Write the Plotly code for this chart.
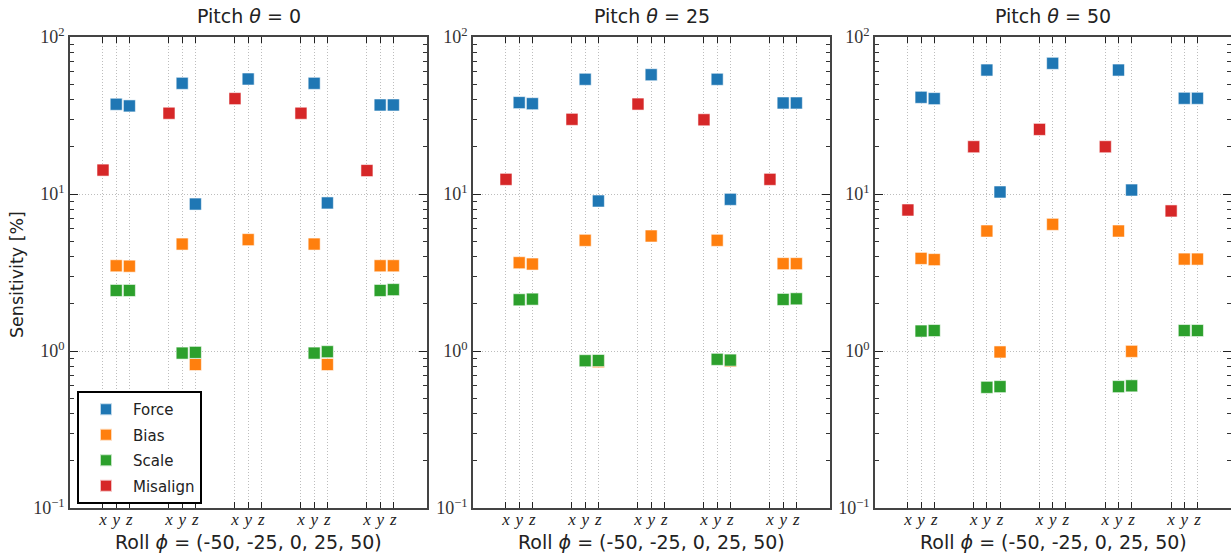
import plotly.graph_objects as go

# ---------------- data ----------------
pitches = [0, 25, 50]
rolls = [-50, -25, 0, 25, 50]
axes_lbl = ["x", "y", "z"]
series_names = ["Force", "Bias", "Scale", "Misalign"]
series_colors = ["#1f77b4", "#ff7f0e", "#2ca02c", "#d62728"]
y_tickvals = [0.1, 1, 10, 100]
y_ticktext = ["10<sup>−1</sup>", "10<sup>0</sup>", "10<sup>1</sup>", "10<sup>2</sup>"]

# values ordered roll-major: (roll -50: x,y,z), (roll -25: x,y,z), ...
force_p0 = [None, 37.3, 36.4, None, 50.7, 8.63, None, 54.0, None, None, 50.7, 8.77, None, 36.9, 36.9]
bias_p0 = [None, 3.49, 3.47, None, 4.80, 0.82, None, 5.12, None, None, 4.80, 0.82, None, 3.49, 3.49]
scale_p0 = [None, 2.43, 2.43, None, 0.97, 0.98, None, None, None, None, 0.97, 0.99, None, 2.43, 2.46]
misalign_p0 = [14.2, None, None, 32.7, None, None, 40.5, None, None, 32.7, None, None, 14.1, None, None]

force_p25 = [None, 38.2, 37.6, None, 53.8, 9.02, None, 57.5, None, None, 53.8, 9.25, None, 38.0, 38.0]
bias_p25 = [None, 3.65, 3.58, None, 5.07, 0.855, None, 5.40, None, None, 5.07, 0.865, None, 3.60, 3.60]
scale_p25 = [None, 2.12, 2.14, None, 0.867, 0.87, None, None, None, None, 0.885, 0.875, None, 2.13, 2.15]
misalign_p25 = [12.4, None, None, 29.9, None, None, 37.4, None, None, 29.7, None, None, 12.4, None, None]

force_p50 = [None, 41.3, 40.5, None, 61.6, 10.3, None, 68.0, None, None, 61.6, 10.6, None, 40.7, 40.7]
bias_p50 = [None, 3.89, 3.82, None, 5.81, 0.986, None, 6.41, None, None, 5.81, 0.995, None, 3.85, 3.85]
scale_p50 = [None, 1.34, 1.35, None, 0.587, 0.593, None, None, None, None, 0.593, 0.60, None, 1.35, 1.35]
misalign_p50 = [7.91, None, None, 20.0, None, None, 25.8, None, None, 20.0, None, None, 7.8, None, None]

panel_data = [
    [force_p0, bias_p0, scale_p0, misalign_p0],
    [force_p25, bias_p25, scale_p25, misalign_p25],
    [force_p50, bias_p50, scale_p50, misalign_p50],
]

# ---------------- layout helpers ----------------
W, H = 1231, 557
GROUP_STEP = 5
xpos = [GROUP_STEP * i + j for i in range(len(rolls)) for j in range(len(axes_lbl))]
xtext = ["<i>%s</i>" % a for _ in rolls for a in axes_lbl]

panel_px = [(70, 427), (473, 830), (875, 1231)]
top_px, bot_px = 37, 508

SANS = "'DejaVu Sans', sans-serif"
SERIF = "'Liberation Serif', 'DejaVu Serif', serif"

fig = go.Figure()

for p, pitch in enumerate(pitches):
    xa = "x" if p == 0 else "x%d" % (p + 1)
    ya = "y" if p == 0 else "y%d" % (p + 1)
    for s, name in enumerate(series_names):
        fig.add_trace(go.Scatter(
            x=xpos, y=panel_data[p][s], mode="markers", name=name,
            xaxis=xa, yaxis=ya, showlegend=(p == 0), legendgroup=name,
            marker=dict(symbol="square", size=12, color=series_colors[s],
                        line=dict(color="rgba(255,255,255,0.7)", width=0.8)),
            cliponaxis=False,
        ))

layout = dict(
    width=W, height=H, margin=dict(l=0, r=0, t=0, b=0, autoexpand=False),
    paper_bgcolor="white", plot_bgcolor="white",
    showlegend=True,
    legend=dict(x=77 / W, y=1 - 391 / H, xanchor="left", yanchor="top",
                bordercolor="black", borderwidth=2, bgcolor="white",
                font=dict(family=SANS, size=15, color="#222"),
                itemsizing="constant", itemwidth=44, tracegroupgap=3),
    annotations=[],
)

for p, pitch in enumerate(pitches):
    l, r = panel_px[p]
    xkey = "xaxis" if p == 0 else "xaxis%d" % (p + 1)
    ykey = "yaxis" if p == 0 else "yaxis%d" % (p + 1)
    ya = "y" if p == 0 else "y%d" % (p + 1)
    xa = "x" if p == 0 else "x%d" % (p + 1)
    layout[xkey] = dict(
        domain=[l / W, min(r / W, 1.0)], anchor=ya, range=[-2.5, 24.55],
        automargin=False,
        tickmode="array", tickvals=xpos, ticktext=xtext,
        ticks="inside", ticklen=6, tickwidth=1.2, tickcolor="#222",
        ticklabelstandoff=-5,
        showline=True, linecolor="#444", linewidth=1.6, mirror="allticks",
        showgrid=True, gridcolor="#bdbdbd", griddash="1px,2px", gridwidth=1,
        zeroline=False,
        tickfont=dict(family=SERIF, size=17, color="#222"),
    )
    layout[ykey] = dict(
        domain=[1 - bot_px / H, 1 - top_px / H], anchor=xa,
        automargin=False,
        type="log", range=[-1, 2],
        tickmode="array", tickvals=y_tickvals, ticktext=y_ticktext,
        ticks="inside", ticklen=8, tickwidth=1.2, tickcolor="#222",
        showline=True, linecolor="#444", linewidth=1.6, mirror="allticks",
        showgrid=True, gridcolor="#bdbdbd", griddash="1px,2px", gridwidth=1,
        zeroline=False,
        minor=dict(ticks="inside", ticklen=4, tickwidth=1, tickcolor="#333",
                   dtick="D1", showgrid=False),
        tickfont=dict(family=SERIF, size=18, color="#333"),
    )
    cx = (l + min(r, W)) / 2 / W
    layout["annotations"].append(dict(
        text="Pitch <i>θ</i> = %d" % pitch, x=cx, y=1 - 16 / H,
        xref="paper", yref="paper", xanchor="center", yanchor="middle",
        showarrow=False, font=dict(family=SANS, size=19, color="#222")))
    layout["annotations"].append(dict(
        text="Roll <i>ϕ</i> = (%s)" % ", ".join(str(v) for v in rolls),
        x=cx, y=1 - 542 / H, xref="paper", yref="paper",
        xanchor="center", yanchor="middle", showarrow=False,
        font=dict(family=SANS, size=19, color="#222")))

layout["annotations"].append(dict(
    text="Sensitivity [%]", x=17 / W, y=1 - 275 / H, xref="paper", yref="paper",
    xanchor="center", yanchor="middle", showarrow=False, textangle=-90,
    font=dict(family=SANS, size=17.5, color="#222")))

fig.update_layout(**layout)
fig.write_html("out.html")
